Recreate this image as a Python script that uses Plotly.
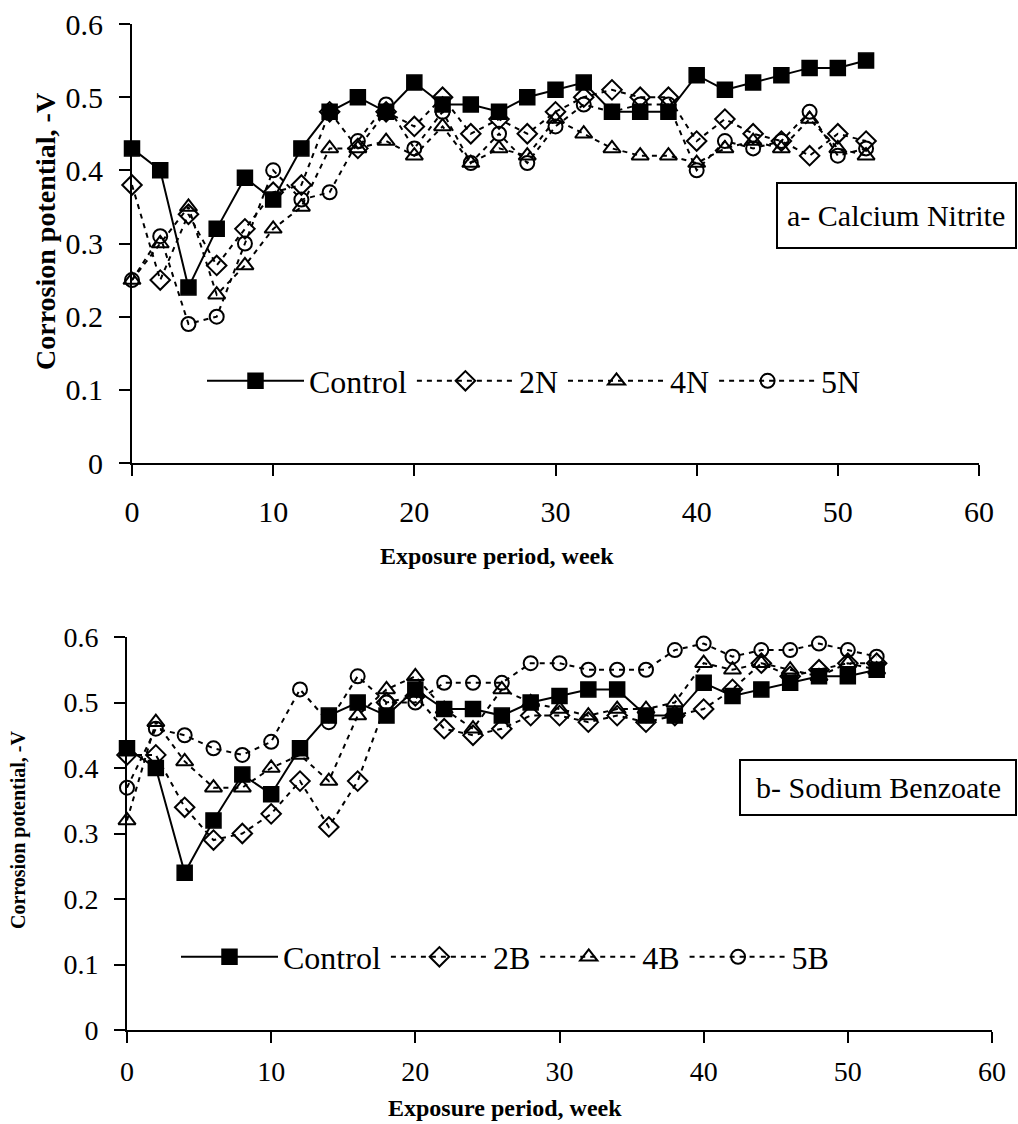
import plotly.graph_objects as go

# ---------------- data ----------------
weeks = list(range(0, 53, 2))

# (a) Calcium Nitrite
control_a = [0.43, 0.40, 0.24, 0.32, 0.39, 0.36, 0.43, 0.48, 0.50, 0.48, 0.52, 0.49, 0.49, 0.48,
             0.50, 0.51, 0.52, 0.48, 0.48, 0.48, 0.53, 0.51, 0.52, 0.53, 0.54, 0.54, 0.55]
n2 = [0.38, 0.25, 0.34, 0.27, 0.32, 0.37, 0.38, 0.48, 0.43, 0.48, 0.46, 0.50, 0.45, 0.47,
      0.45, 0.48, 0.50, 0.51, 0.50, 0.50, 0.44, 0.47, 0.45, 0.44, 0.42, 0.45, 0.44]
n4 = [0.25, 0.30, 0.35, 0.23, 0.27, 0.32, 0.35, 0.43, 0.43, 0.44, 0.42, 0.46, 0.41, 0.43,
      0.42, 0.47, 0.45, 0.43, 0.42, 0.42, 0.41, 0.43, 0.44, 0.43, 0.47, 0.43, 0.42]
n5 = [0.25, 0.31, 0.19, 0.20, 0.30, 0.40, 0.36, 0.37, 0.44, 0.49, 0.43, 0.48, 0.41, 0.45,
      0.41, 0.46, 0.49, 0.48, 0.49, 0.49, 0.40, 0.44, 0.43, 0.44, 0.48, 0.42, 0.43]

# (b) Sodium Benzoate
control_b = [0.43, 0.40, 0.24, 0.32, 0.39, 0.36, 0.43, 0.48, 0.50, 0.48, 0.52, 0.49, 0.49, 0.48,
             0.50, 0.51, 0.52, 0.52, 0.48, 0.48, 0.53, 0.51, 0.52, 0.53, 0.54, 0.54, 0.55]
b2 = [0.42, 0.42, 0.34, 0.29, 0.30, 0.33, 0.38, 0.31, 0.38, 0.50, 0.51, 0.46, 0.45, 0.46,
      0.48, 0.48, 0.47, 0.48, 0.47, 0.48, 0.49, 0.52, 0.56, 0.54, 0.55, 0.56, 0.56]
b4 = [0.32, 0.47, 0.41, 0.37, 0.37, 0.40, 0.42, 0.38, 0.48, 0.52, 0.54, 0.49, 0.46, 0.52,
      0.50, 0.49, 0.48, 0.49, 0.49, 0.50, 0.56, 0.55, 0.56, 0.55, 0.54, 0.56, 0.55]
b5 = [0.37, 0.46, 0.45, 0.43, 0.42, 0.44, 0.52, 0.47, 0.54, 0.50, 0.50, 0.53, 0.53, 0.53,
      0.56, 0.56, 0.55, 0.55, 0.55, 0.58, 0.59, 0.57, 0.58, 0.58, 0.59, 0.58, 0.57]

x_ticks = [0, 10, 20, 30, 40, 50, 60]
y_ticks = [0, 0.1, 0.2, 0.3, 0.4, 0.5, 0.6]

names_a = ["Control", "2N", "4N", "5N"]
names_b = ["Control", "2B", "4B", "5B"]

# ---------------- figure ----------------
W, H = 1018, 1124
FONT = "Liberation Serif"

def px(x):
    return x / W

def py(y):
    return 1 - y / H

styles = [
    dict(symbol="square", size=15, color="black", line=dict(color="black", width=1.5)),
    dict(symbol="diamond-open", size=15, color="black", line=dict(color="black", width=2)),
    dict(symbol="triangle-up-open", size=15, color="black", line=dict(color="black", width=2)),
    dict(symbol="circle-open", size=14, color="black", line=dict(color="black", width=2)),
]
dashes = ["solid", "5px,5px", "5px,5px", "5px,5px"]

fig = go.Figure()

for i, (name, ys) in enumerate(zip(names_a, [control_a, n2, n4, n5])):
    fig.add_trace(go.Scatter(
        x=weeks, y=ys, name=name, mode="lines+markers",
        line=dict(color="black", width=2, dash=dashes[i]),
        marker=styles[i], cliponaxis=False,
        xaxis="x", yaxis="y", legend="legend",
    ))

for i, (name, ys) in enumerate(zip(names_b, [control_b, b2, b4, b5])):
    fig.add_trace(go.Scatter(
        x=weeks, y=ys, name=name, mode="lines+markers",
        line=dict(color="black", width=2, dash=dashes[i]),
        marker=styles[i], cliponaxis=False,
        xaxis="x2", yaxis="y2", legend="legend2",
    ))

axis_common = dict(
    showline=True, linecolor="black", linewidth=2, mirror=False,
    ticks="outside", ticklen=11, tickwidth=2, tickcolor="black",
    showgrid=False, zeroline=False, automargin=False,
)

fig.update_layout(
    width=W, height=H,
    margin=dict(l=0, r=0, t=0, b=0, autoexpand=False),
    paper_bgcolor="white", plot_bgcolor="white",
    font=dict(family=FONT, color="black"),
    showlegend=True,
    xaxis=dict(domain=[px(132), px(979)], range=[0, 60], anchor="y",
               tickvals=x_ticks, tickfont=dict(size=30, family=FONT),
               ticklabelstandoff=10, **axis_common),
    yaxis=dict(domain=[py(463), py(24)], range=[0, 0.6], anchor="x",
               tickvals=y_ticks, ticktext=[str(v) if v else "0" for v in y_ticks],
               tickfont=dict(size=30, family=FONT),
               ticklabelstandoff=10, **axis_common),
    xaxis2=dict(domain=[px(127), px(992)], range=[0, 60], anchor="y2",
                tickvals=x_ticks, tickfont=dict(size=28, family=FONT),
                ticklabelstandoff=4, **axis_common),
    yaxis2=dict(domain=[py(1030), py(637)], range=[0, 0.6], anchor="x2",
                tickvals=y_ticks, ticktext=[str(v) if v else "0" for v in y_ticks],
                tickfont=dict(size=28, family=FONT),
                ticklabelstandoff=10, **axis_common),
    legend=dict(orientation="h", x=px(202), y=py(381), xanchor="left", yanchor="middle",
                bgcolor="rgba(0,0,0,0)", font=dict(size=32, family=FONT),
                itemwidth=97, tracegroupgap=0),
    legend2=dict(orientation="h", x=px(176), y=py(957), xanchor="left", yanchor="middle",
                 bgcolor="rgba(0,0,0,0)", font=dict(size=32, family=FONT),
                 itemwidth=97, tracegroupgap=0),
)

# label boxes
fig.add_shape(type="rect", xref="paper", yref="paper",
              x0=px(777), x1=px(1016), y0=py(248), y1=py(183),
              line=dict(color="black", width=2), fillcolor="white", layer="above")
fig.add_shape(type="rect", xref="paper", yref="paper",
              x0=px(740), x1=px(1016), y0=py(815), y1=py(760),
              line=dict(color="black", width=2), fillcolor="white", layer="above")

annotations = [
    dict(text="a- Calcium Nitrite", x=px(896), y=py(215), font=dict(size=30)),
    dict(text="b- Sodium Benzoate", x=px(878), y=py(787), font=dict(size=30)),
    dict(text="<b>Corrosion potential, -V</b>", x=px(45), y=py(232), textangle=-90,
         font=dict(size=28)),
    dict(text="<b>Exposure period, week</b>", x=px(497), y=py(556), font=dict(size=24)),
    dict(text="<b>Corrosion potential, -V</b>", x=px(18), y=py(830), textangle=-90,
         font=dict(size=20)),
    dict(text="<b>Exposure period, week</b>", x=px(505), y=py(1108), font=dict(size=24)),
]
for a in annotations:
    fig.add_annotation(xref="paper", yref="paper", showarrow=False,
                       xanchor="center", yanchor="middle",
                       font=dict(family=FONT, color="black", size=a["font"]["size"]),
                       **{k: v for k, v in a.items() if k != "font"})

fig.write_html("out.html")
